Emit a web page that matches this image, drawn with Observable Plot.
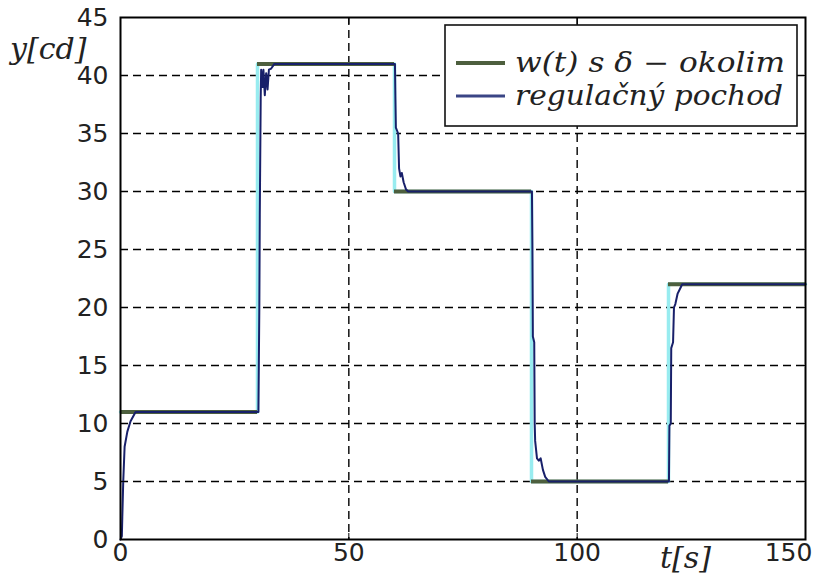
<!DOCTYPE html>
<html>
<head>
<meta charset="utf-8">
<script src="https://cdn.jsdelivr.net/npm/d3@7"></script>
<script src="https://cdn.jsdelivr.net/npm/@observablehq/plot@0.6"></script>
<style>
  html, body { margin: 0; padding: 0; background: #fff; }
  #wrap { position: relative; width: 818px; height: 579px; overflow: hidden; }
  .lbl { position: absolute; font-family: "DejaVu Serif", serif; font-style: italic; color: #222; white-space: nowrap; line-height: 1; }
</style>
</head>
<body>
<div id="wrap"></div>
<script>
// Reference w(t): step times and levels
const stepTimes = [0, 30, 60, 90, 120, 150];
const levels = [11, 41, 30, 5, 22, 22];

// Control response (regulačný pochod)
const respT = [0, 0.3, 0.4, 0.6, 0.9, 1.5, 2.2, 3.3,
  30.2, 30.4, 30.5, 30.7, 30.8, 31.1, 31.3, 31.6, 31.9, 32.2, 32.5, 33.0, 33.7,
  60.1, 60.2, 60.3, 60.8, 61.0, 61.3, 61.6, 62.0, 62.5, 63.0,
  90.1, 90.2, 90.3, 90.6, 90.7, 90.8, 91.2, 91.6, 92.0, 92.5, 93.0, 93.8,
  120.1, 120.2, 120.5, 120.6, 121.0, 121.2, 121.5, 122.0, 122.5, 123.0, 150];
const respY = [0, 0.3, 2, 5, 8, 9.3, 10.2, 11,
  11, 20, 28, 38, 40.5, 39, 40.5, 38.3, 40.2, 38.8, 40.5, 40.6, 41,
  41, 38, 35.5, 35, 32, 31.3, 31.6, 30.8, 30.2, 30,
  30, 25, 17.5, 17, 10, 8.5, 7, 6.8, 7, 6, 5.4, 5,
  5, 9.8, 10, 16.5, 17, 20, 20.3, 21.2, 21.6, 22, 22];

const yTicks = [0, 5, 10, 15, 20, 25, 30, 35, 40, 45];
const xTicks = [0, 50, 100, 150];
const legendLabels = ["w(t) s δ − okolim", "regulačný pochod"];

const wData = stepTimes.map((t, i) => ({t, y: levels[i]}));
const wSegs = stepTimes.slice(0, -1).map((t, i) => ({t0: t, t1: stepTimes[i + 1], y: levels[i]}));
const resp = respT.map((t, i) => ({t, y: respY[i]}));

const font = "'DejaVu Sans', sans-serif";
const chart = Plot.plot({
  width: 818,
  height: 579,
  marginLeft: 120,
  marginRight: 13,
  marginTop: 17,
  marginBottom: 40,
  style: {background: "#fff", color: "#222", fontFamily: font},
  x: {domain: [0, 150], label: null},
  y: {domain: [0, 45], label: null},
  marks: [
    Plot.gridY(yTicks.filter(d => d > 0 && d < 45), {stroke: "#000", strokeOpacity: 1, strokeWidth: 1.4, strokeDasharray: "8,5"}),
    Plot.gridX([50, 100], {stroke: "#000", strokeOpacity: 1, strokeWidth: 1.4, strokeDasharray: "8,5"}),
    Plot.line(wData, {x: "t", y: "y", curve: "step-after", stroke: "#98ecf0", strokeWidth: 3.5}),
    Plot.ruleY(wSegs, {y: "y", x1: "t0", x2: "t1", stroke: "#4d5f3e", strokeWidth: 4}),
    Plot.line(resp, {x: "t", y: "y", stroke: "#18206a", strokeWidth: 2}),
    Plot.frame({stroke: "#000", strokeWidth: 2}),
    Plot.axisY(yTicks, {tickSize: -6, text: null, label: null, stroke: "#000"}),
    Plot.axisY(yTicks, {anchor: "right", tickSize: -6, text: null, label: null, stroke: "#000"}),
    Plot.axisX(xTicks, {tickSize: -6, text: null, label: null, stroke: "#000"}),
    Plot.axisX(xTicks, {anchor: "top", tickSize: -6, text: null, label: null, stroke: "#000"}),
    Plot.axisY(yTicks, {tickSize: 0, tickPadding: 12, fontSize: 25, label: null}),
    Plot.axisX([0, 50, 100], {tickSize: 0, tickPadding: 4, fontSize: 25, label: null}),
    Plot.axisX([150], {tickSize: 0, tickPadding: 4, fontSize: 25, label: null, dx: -17})
  ]
});

const wrap = document.getElementById("wrap");
wrap.appendChild(chart);

function addLabel(txt, left, top, size) {
  const s = document.createElement("span");
  s.className = "lbl";
  s.textContent = txt;
  s.style.left = left + "px";
  s.style.top = top + "px";
  s.style.fontSize = size + "px";
  wrap.appendChild(s);
}
addLabel("y[cd]", 10, 34, 30);
addLabel("t[s]", 660, 543, 30);

// Legend overlay
const ns = "http://www.w3.org/2000/svg";
const lg = document.createElementNS(ns, "svg");
lg.setAttribute("width", 818);
lg.setAttribute("height", 579);
lg.style.position = "absolute";
lg.style.left = "0px";
lg.style.top = "0px";
const box = document.createElementNS(ns, "rect");
box.setAttribute("x", 445); box.setAttribute("y", 25);
box.setAttribute("width", 352); box.setAttribute("height", 101);
box.setAttribute("fill", "#fff"); box.setAttribute("stroke", "#111"); box.setAttribute("stroke-width", 1.6);
lg.appendChild(box);
const swatchColors = ["#4d5f3e", "#3a4585"];
const swatchWidths = [4, 3];
legendLabels.forEach((lab, i) => {
  const yy = 63 + i * 33;
  const ln = document.createElementNS(ns, "line");
  ln.setAttribute("x1", 456); ln.setAttribute("x2", 505);
  ln.setAttribute("y1", yy); ln.setAttribute("y2", yy);
  ln.setAttribute("stroke", swatchColors[i]); ln.setAttribute("stroke-width", swatchWidths[i]);
  lg.appendChild(ln);
  const tx = document.createElementNS(ns, "text");
  tx.setAttribute("x", 515); tx.setAttribute("y", yy + 9);
  tx.setAttribute("font-family", "'DejaVu Serif', serif");
  tx.setAttribute("font-style", "italic");
  tx.setAttribute("font-size", 27);
  tx.setAttribute("fill", "#222");
  tx.setAttribute("textLength", i === 0 ? 270 : 268);
  tx.setAttribute("lengthAdjust", "spacingAndGlyphs");
  tx.textContent = lab;
  lg.appendChild(tx);
});
wrap.appendChild(lg);
</script>
</body>
</html>
